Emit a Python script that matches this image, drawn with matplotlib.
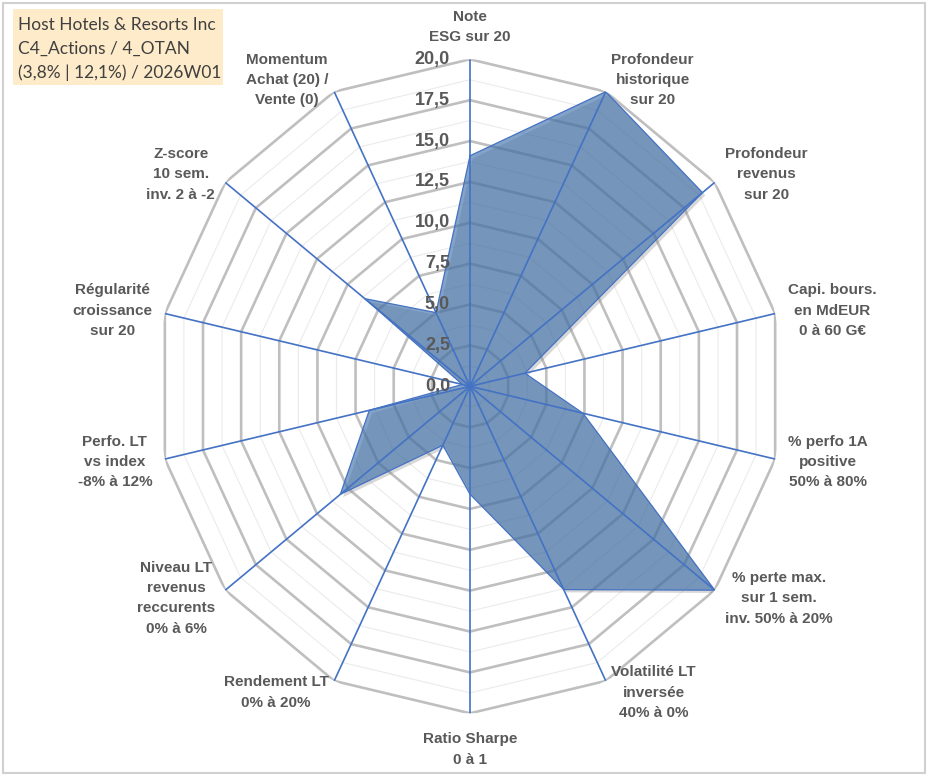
import numpy as np
import matplotlib
matplotlib.use("Agg")
import matplotlib.pyplot as plt
import matplotlib.patches as mpatches
import matplotlib.patheffects as pe

# axis labels, clockwise from the top
categories = [
    "Note\nESG sur 20",
    "Profondeur\nhistorique\nsur 20",
    "Profondeur\nrevenus\nsur 20",
    "Capi. bours.\nen MdEUR\n0 à 60 G€",
    "% perfo 1A\npositive\n50% à 80%",
    "% perte max.\nsur 1 sem.\ninv. 50% à 20%",
    "Volatilité LT\ninversée\n40% à 0%",
    "Ratio Sharpe\n0 à 1",
    "Rendement LT\n0% à 20%",
    "Niveau LT\nrevenus\nreccurents\n0% à 6%",
    "Perfo. LT\nvs index\n-8% à 12%",
    "Régularité\ncroissance\nsur 20",
    "Z-score\n10 sem.\ninv. 2 à -2",
    "Momentum\nAchat (20) /\nVente (0)",
]
scores = [14.1, 20.0, 19.0, 3.6, 7.4, 20.0, 13.8, 6.6, 4.0, 10.6, 6.6, 0.5, 8.6, 5.0]
r_ticks = [0, 2.5, 5, 7.5, 10, 12.5, 15, 17.5, 20]
r_minor = [1.25, 3.75, 6.25, 8.75, 11.25, 13.75, 16.25, 18.75]
title_lines = ["Host Hotels & Resorts Inc",
               "C4_Actions / 4_OTAN",
               "(3,8% | 12,1%) / 2026W01"]

GREY_TXT = "#595959"
BLUE = "#4472C4"

fig = plt.figure(figsize=(9.33, 7.76), dpi=100)
fig.patch.set_facecolor("white")

# plot area (slightly taller than wide, like the source)
ax = fig.add_axes([157 / 933, 62.7 / 776, 626 / 933, 654 / 776], projection="polar")
ax.set_aspect("auto")
ax.set_theta_zero_location("N")
ax.set_theta_direction(-1)
ax.set_ylim(0, 20)
ax.set_xticks([])
ax.set_yticks([])
ax.grid(False)
ax.spines["polar"].set_visible(False)
ax.patch.set_alpha(0)

n = len(categories)
theta = np.linspace(0, 2 * np.pi, n, endpoint=False)
theta_closed = np.append(theta, theta[0])

# polygon rings
for r in r_minor:
    ax.plot(theta_closed, [r] * (n + 1), color="#EBEBEB", lw=0.8, zorder=1)
for r in r_ticks[1:]:
    ax.plot(theta_closed, [r] * (n + 1), color="#BFBFBF", lw=1.9, zorder=1)

# data area
vals = np.append(scores, scores[0])
poly = ax.fill(theta_closed, vals, color="#3D6FAA", alpha=0.64, lw=0, zorder=2)[0]
poly.set_path_effects([pe.SimplePatchShadow(offset=(2, -2), shadow_rgbFace="#7F7F7F", alpha=0.3),
                       pe.Normal()])
ax.plot(theta_closed, vals, color=BLUE, lw=0.9, zorder=3)

# spokes
for t in theta:
    ax.plot([t, t], [0, 20], color=BLUE, lw=1.2, zorder=4)

# radial tick labels along the top spoke
for r in r_ticks:
    ax.annotate(f"{r:.1f}".replace(".", ","), xy=(0, r), xytext=(-20, 0),
                textcoords="offset pixels", ha="right", va="center",
                fontsize=13, fontweight="bold", color=GREY_TXT,
                family="Liberation Sans", zorder=5)

# category labels
for t, lab in zip(theta, categories):
    s, c = np.sin(t), np.cos(t)
    if abs(s) < 0.1:
        ha = "center"
        if c > 0:
            va, off = "bottom", (0, 15)
        else:
            va, off = "top", (0, -19)
    else:
        ha = "left" if s > 0 else "right"
        va = "center"
        off = (s * 13, c * 13)
    ax.annotate(lab, xy=(t, 20), xytext=off, textcoords="offset pixels",
                ha=ha, va=va, multialignment="center", linespacing=1.58,
                fontsize=11, fontweight="bold", color=GREY_TXT,
                family="Liberation Sans", annotation_clip=False)

# title box top-left
fig.patches.append(mpatches.Rectangle((12.7 / 933, 1 - 85 / 776), 210 / 933, 75.7 / 776,
                                      transform=fig.transFigure, facecolor="#FEEBC9",
                                      edgecolor="none", zorder=0))
for i, line in enumerate(title_lines):
    fig.text(18 / 933, 1 - (25 + 24 * i) / 776, line, ha="left", va="center",
             fontsize=12.5, color="#404040", family="Lato")

# chart frame
fig.patches.append(mpatches.Rectangle((2.5 / 933, 3 / 776), 922 / 933, 770 / 776,
                                      transform=fig.transFigure, facecolor="none",
                                      edgecolor="#D0D0D0", lw=1.5))

fig.savefig("out.png", dpi=100)
